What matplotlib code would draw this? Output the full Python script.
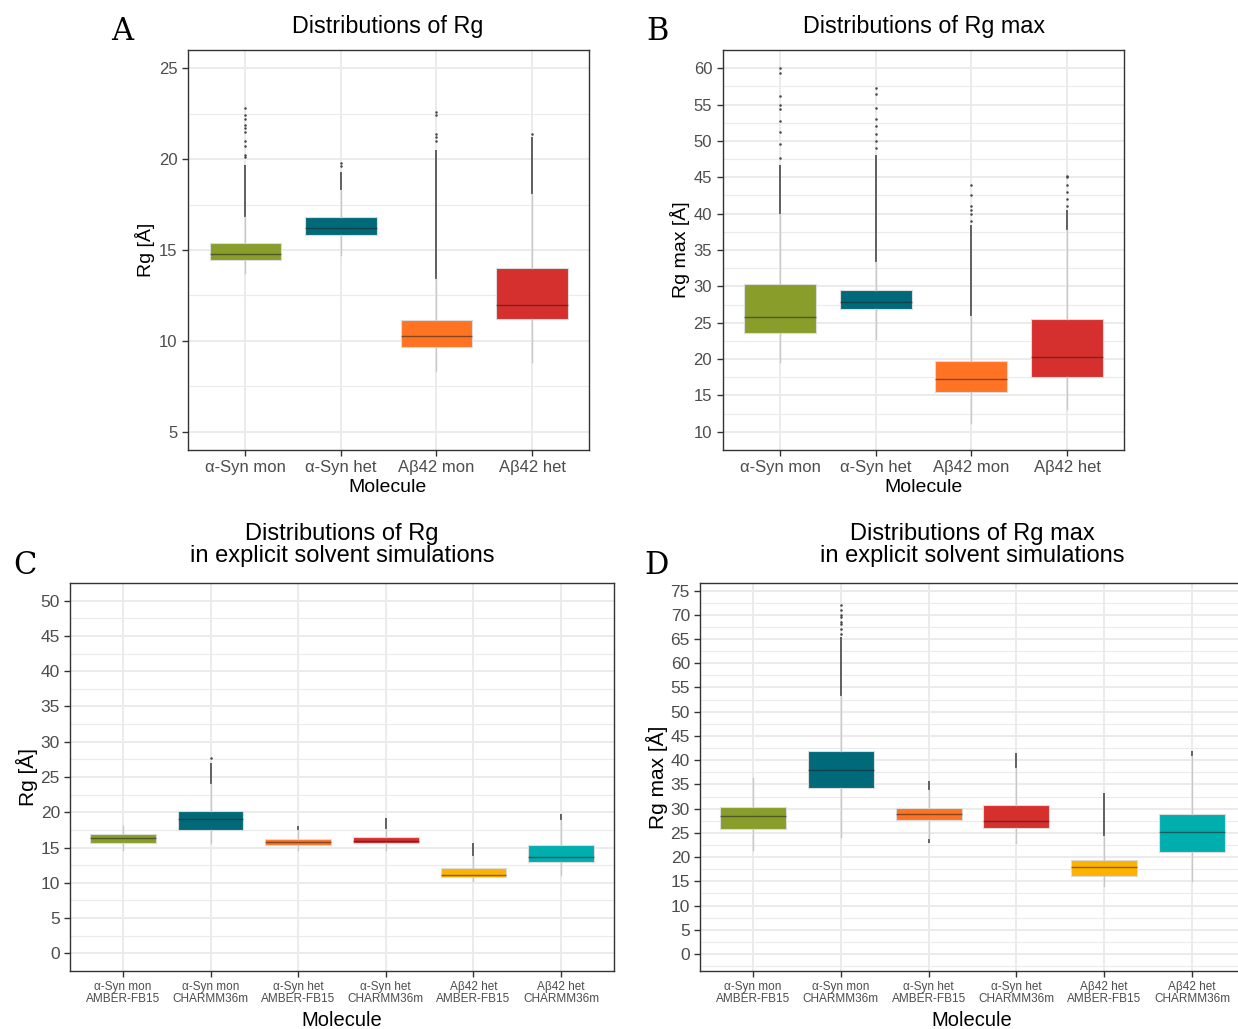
import numpy as np
import matplotlib.pyplot as plt
from matplotlib.ticker import MultipleLocator

# ---- panel A: Rg ----
labels4 = ['α-Syn mon', 'α-Syn het', 'Aβ42 mon', 'Aβ42 het']
a_q1 = [14.47, 15.84, 9.67, 11.22]
a_med = [14.78, 16.2, 10.27, 11.99]
a_q3 = [15.4, 16.79, 11.17, 14.0]
a_lo = [13.72, 14.73, 8.36, 8.85]
a_hi = [16.8, 18.3, 13.4, 18.1]
a_dense = [[(16.8, 19.7)], [(18.3, 19.3)], [(13.4, 20.5)], [(18.1, 21.2)]]
a_sparse = [[20.1, 20.2, 20.7, 21.0, 21.5, 21.7, 21.9, 22.2, 22.4, 22.8],
            [19.6, 19.8],
            [21.0, 21.2, 21.4, 22.4, 22.6],
            [21.4]]

# ---- panel B: Rg max ----
b_q1 = [23.58, 26.87, 15.5, 17.5]
b_med = [25.73, 27.8, 17.2, 20.3]
b_q3 = [30.27, 29.5, 19.7, 25.5]
b_lo = [19.6, 22.7, 11.2, 13.2]
b_hi = [40.0, 33.4, 25.9, 37.7]
b_dense = [[(40.0, 46.7)], [(33.4, 48.0)], [(25.9, 38.5)], [(37.7, 40.5)]]
b_sparse = [[47.7, 49.6, 51.2, 52.8, 54.4, 55.0, 56.2, 59.4, 60.0],
            [49.0, 50.0, 51.0, 52.0, 53.0, 54.5, 56.5, 57.3],
            [39.0, 40.0, 40.5, 41.0, 42.5, 44.0],
            [41.0, 42.0, 43.0, 44.0, 45.0, 45.2]]

# ---- panel C: Rg, explicit solvent ----
labels6 = ['α-Syn mon\nAMBER-FB15', 'α-Syn mon\nCHARMM36m',
           'α-Syn het\nAMBER-FB15', 'α-Syn het\nCHARMM36m',
           'Aβ42 het\nAMBER-FB15', 'Aβ42 het\nCHARMM36m']
c_q1 = [15.7, 17.48, 15.4, 15.7, 10.86, 13.0]
c_med = [16.3, 18.98, 15.74, 15.93, 11.14, 13.63]
c_q3 = [16.87, 20.16, 16.2, 16.45, 12.08, 15.37]
c_lo = [14.66, 15.7, 14.66, 14.66, 10.2, 11.04]
c_hi = [18.05, 24.06, 17.5, 17.6, 13.8, 18.9]
c_dense = [[], [(24.06, 27.0)], [(17.5, 18.0)], [(17.6, 19.2)],
           [(13.8, 15.7)], [(18.9, 19.7)]]
c_sparse = [[], [27.7], [], [], [], []]

# ---- panel D: Rg max, explicit solvent ----
d_q1 = [25.78, 34.3, 27.57, 25.9, 16.0, 21.04]
d_med = [28.46, 37.88, 28.87, 27.5, 17.87, 25.23]
d_q3 = [30.25, 41.86, 30.1, 30.8, 19.38, 28.94]
d_lo = [21.5, 24.06, 24.0, 23.0, 13.95, 15.1]
d_hi = [36.3, 53.3, 33.9, 38.4, 24.27, 40.8]
d_dense = [[], [(53.3, 65.5)], [(22.9, 23.8), (33.9, 35.8)], [(38.4, 41.4)],
           [(24.27, 33.3)], [(40.8, 41.9)]]
d_sparse = [[], [66.0, 67.0, 68.0, 68.5, 69.5, 70.0, 71.0, 72.0], [], [], [], []]

colors4 = ['#889D2A', '#006A7A', '#FF7322', '#D52F2E']
colors6 = ['#889D2A', '#006A7A', '#FF7322', '#D52F2E', '#FDB200', '#00AEAE']

W, H = 1238, 1029
fig = plt.figure(figsize=(W / 100, H / 100), dpi=100)
plt.rcParams['font.family'] = ['Liberation Sans', 'DejaVu Sans']


def px_axes(left, right, top, bottom):
    return fig.add_axes([left / W, 1 - bottom / H, (right - left) / W, (bottom - top) / H])


def fig_text(x, y, s, **kw):
    fig.text(x / W, 1 - y / H, s, ha='center', va='center', **kw)


def panel(ax, labels, q1, med, q3, lo, hi, dense, sparse, colors, ylim, step, xfs, yfs):
    n = len(labels)
    stats = []
    for i in range(n):
        stats.append(dict(whislo=lo[i], q1=q1[i], med=med[i], q3=q3[i],
                          whishi=hi[i], fliers=sparse[i]))
    pos = np.arange(1, n + 1)
    bp = ax.bxp(stats, positions=pos, widths=0.75, patch_artist=True,
                showcaps=False, zorder=3,
                whiskerprops=dict(color='#c8c8c8', lw=1.0),
                medianprops=dict(color='#222222', lw=1.0, alpha=0.55),
                flierprops=dict(marker='o', markersize=0.8, markerfacecolor='#444444',
                                markeredgecolor='#444444', linestyle='none'),
                boxprops=dict(edgecolor='#dcdcdc', lw=0.8))
    for patch, c in zip(bp['boxes'], colors):
        patch.set_facecolor(c)
    for i in range(n):
        for run in dense[i]:
            ax.vlines(pos[i], run[0], run[1], color='#555555', lw=1.3, zorder=2.5)
    ax.set_xlim(0.4, n + 0.6)
    ax.set_ylim(*ylim)
    ax.set_xticks(pos)
    ax.set_xticklabels(labels, fontsize=xfs, color='#4D4D4D', linespacing=0.95)
    ax.yaxis.set_major_locator(MultipleLocator(step))
    ax.yaxis.set_minor_locator(MultipleLocator(step / 2))
    ax.tick_params(axis='y', labelsize=yfs, colors='#4D4D4D')
    ax.tick_params(axis='both', which='major', length=4, width=1.0, color='#333333')
    ax.tick_params(axis='y', which='minor', length=0)
    ax.grid(which='major', color='#EBEBEB', lw=1.4, zorder=0)
    ax.grid(which='minor', axis='y', color='#EBEBEB', lw=0.8, zorder=0)
    ax.set_axisbelow(True)
    for s in ax.spines.values():
        s.set_color('#333333')
        s.set_linewidth(1.0)


axA = px_axes(188, 589.4, 50, 450)
panel(axA, labels4, a_q1, a_med, a_q3, a_lo, a_hi, a_dense, a_sparse, colors4,
      (4, 26), 5, 12, 12)
axB = px_axes(722.6, 1124.4, 50, 450)
panel(axB, labels4, b_q1, b_med, b_q3, b_lo, b_hi, b_dense, b_sparse, colors4,
      (7.5, 62.5), 5, 12, 12)
axC = px_axes(70.4, 613.6, 583, 971)
panel(axC, labels6, c_q1, c_med, c_q3, c_lo, c_hi, c_dense, c_sparse, colors6,
      (-2.5, 52.5), 5, 8.5, 12.5)
axD = px_axes(700.3, 1244.7, 583.3, 970.7)
panel(axD, labels6, d_q1, d_med, d_q3, d_lo, d_hi, d_dense, d_sparse, colors6,
      (-3.45, 76.5), 5, 8.5, 12.5)

# titles and axis labels
fig_text(388, 26, 'Distributions of Rg', fontsize=16.8)
fig_text(924, 26, 'Distributions of Rg max', fontsize=16.8)
fig_text(342, 545, 'Distributions of Rg\nin explicit solvent simulations', fontsize=17, linespacing=1.05)
fig_text(972, 545, 'Distributions of Rg max\nin explicit solvent simulations', fontsize=17, linespacing=1.05)

fig_text(388, 488, 'Molecule', fontsize=14)
fig_text(924, 488, 'Molecule', fontsize=14)
fig_text(342, 1020, 'Molecule', fontsize=14.5)
fig_text(972, 1020, 'Molecule', fontsize=14.5)

fig_text(145, 250, 'Rg [Å]', fontsize=14, rotation=90)
fig_text(680, 250, 'Rg max [Å]', fontsize=14, rotation=90)
fig_text(27, 777, 'Rg [Å]', fontsize=15, rotation=90)
fig_text(657, 777, 'Rg max [Å]', fontsize=15, rotation=90)

for x, y, s in [(122, 32, 'A'), (657, 32, 'B'), (25, 565, 'C'), (657, 565, 'D')]:
    fig_text(x, y, s, fontsize=22, family='DejaVu Serif')

fig.savefig('out.png', dpi=100)
